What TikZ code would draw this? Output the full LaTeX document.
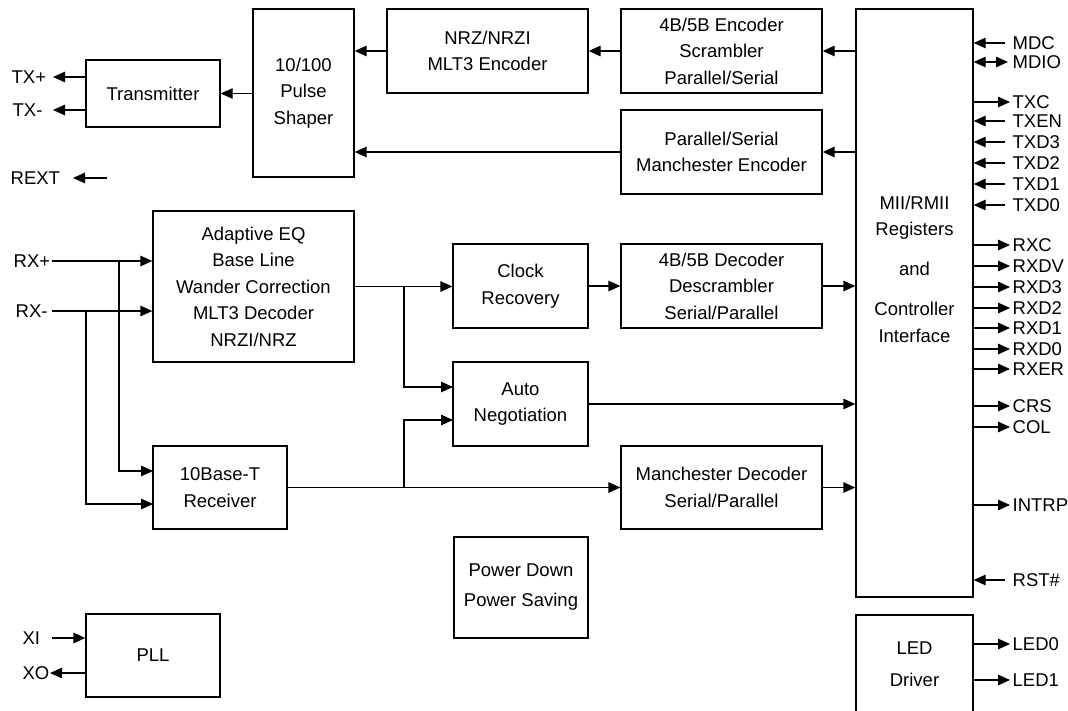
\documentclass[tikz,border=0pt]{standalone}
\usepackage{fontspec}
\setmainfont{Liberation Sans}
\usetikzlibrary{arrows.meta}
\newcommand{\fs}{\fontsize{18.5pt}{26.5pt}\selectfont}
\begin{document}
\begin{tikzpicture}[x=1pt,y=-1pt,
  line width=1.3pt,
  arr/.style={-{Triangle[length=12pt,width=10.5pt]}},
  darr/.style={{Triangle[length=12pt,width=10.5pt]}-{Triangle[length=12pt,width=10.5pt]}},
  blk/.style={draw, inner sep=0pt, align=center, font=\fs},
  txt/.style={inner sep=0pt, align=center, font=\fs},
  lab/.style={inner sep=0pt, font=\fs, text height=13.3pt, text depth=0pt},
]
\fill[white] (0,0) rectangle (1068,711);
\clip (0,0) rectangle (1068,711);

% blocks
\node[blk, minimum width=134pt, minimum height=67pt] (tx) at (153,93.5) {Transmitter};
\node[blk, minimum width=101pt, minimum height=168pt] (ps) at (303.5,93) {10/100\\Pulse\\Shaper};
\node[blk, minimum width=201pt, minimum height=84pt] (nrz) at (487.5,51) {NRZ/NRZI\\MLT3 Encoder};
\node[blk, minimum width=201pt, minimum height=84pt] (enc) at (721.5,51) {4B/5B Encoder\\Scrambler\\Parallel/Serial};
\node[blk, minimum width=201pt, minimum height=84pt] (menc) at (721.5,152) {Parallel/Serial\\Manchester Encoder};
\node[blk, minimum width=117pt, minimum height=588pt] (mii) at (914.5,303) {};
\node[txt] (miit) at (914.5,269) {MII/RMII\\Registers\\[13pt]and\\[14pt]Controller\\Interface};
\node[blk, minimum width=201pt, minimum height=151pt] (aeq) at (253.5,286.5) {Adaptive EQ\\Base Line\\Wander Correction\\MLT3 Decoder\\NRZI/NRZ};
\node[blk, minimum width=135pt, minimum height=84pt] (cr) at (520.5,286) {Clock\\Recovery};
\node[blk, minimum width=201pt, minimum height=84pt] (dec) at (721.5,286) {4B/5B Decoder\\Descrambler\\Serial/Parallel};
\node[blk, minimum width=135pt, minimum height=84pt] (an) at (520.5,404) {Auto\\Negotiation};
\node[blk, minimum width=134pt, minimum height=83pt] (tb) at (220,487.5) {10Base-T\\Receiver};
\node[blk, minimum width=201pt, minimum height=83pt] (mdec) at (721.5,487.5) {Manchester Decoder\\Serial/Parallel};
\node[blk, minimum width=134pt, minimum height=101pt, font=\fontsize{18.5pt}{30pt}\selectfont] (pd) at (521,587.5) {Power Down\\Power Saving};
\node[blk, minimum width=134pt, minimum height=83pt] (pll) at (153,655.5) {PLL};
\node[blk, minimum width=117pt, minimum height=98pt, font=\fontsize{18.5pt}{32pt}\selectfont] (led) at (914.5,664) {LED\\Driver};

% transmit path
\draw[arr] (ps.west |- tx.east) -- (tx.east);
\draw[arr] (nrz.west) -- (ps.east |- nrz.west);
\draw[arr] (enc.west) -- (nrz.east);
\draw[arr] (menc.west) -- (ps.east |- menc.west);
\draw[arr] (mii.west |- enc.east) -- (enc.east);
\draw[arr] (mii.west |- menc.east) -- (menc.east);

% receive path
\coordinate (j1) at (404,286.5);
\coordinate (j2) at (404,487.5);
\coordinate (an1) at (453,387);
\coordinate (an2) at (453,420);
\draw[arr] (aeq.east) -- (aeq.east -| cr.west);
\draw[arr] (j1) |- (an1);
\draw[arr] (j2) |- (an2);
\draw[arr] (cr.east) -- (dec.west);
\draw[arr] (dec.east) -- (mii.west |- dec.east);
\draw[arr] (an.east) -- (mii.west |- an.east);
\draw[arr] (tb.east) -- (mdec.west);
\draw[arr] (mdec.east) -- (mii.west |- mdec.east);

% left pins
\node[lab, anchor=west] (ltxp) at (11,77) {TX+};
\coordinate (ctxp) at (53,77);
\draw[arr] (tx.west |- ctxp) -- (ctxp);
\node[lab, anchor=west] (ltxm) at (12,110) {TX-};
\coordinate (ctxm) at (53,110);
\draw[arr] (tx.west |- ctxm) -- (ctxm);
\node[lab, anchor=west] (lrext) at (10,178) {REXT};
\coordinate (crexa) at (107,178);
\coordinate (crexb) at (73,178);
\draw[arr] (crexa) -- (crexb);
\node[lab, anchor=west] (lrxp) at (13,261) {RX+};
\node[lab, anchor=west] (lrxm) at (15,311) {RX-};
\coordinate (crxp) at (52,261);
\coordinate (crxm) at (52,311);
\draw[arr] (crxp) -- (aeq.west |- crxp);
\draw[arr] (crxm) -- (aeq.west |- crxm);
\coordinate (v1) at (119,261);
\coordinate (v2) at (86,311);
\coordinate (tb1) at (153,471);
\coordinate (tb2) at (153,504);
\draw[arr] (v1) |- (tb1);
\draw[arr] (v2) |- (tb2);
\node[lab, anchor=west] (lxi) at (22,638) {XI};
\coordinate (cxi) at (52,638);
\draw[arr] (cxi) -- (pll.west |- cxi);
\node[lab, anchor=west] (lxo) at (22,673) {XO};
\coordinate (cxo) at (50,673);
\draw[arr] (pll.west |- cxo) -- (cxo);

% right pins: inputs
\foreach \n/\y in {MDC/43,TXEN/121,TXD3/142,TXD2/163,TXD1/184,TXD0/205}{
  \node[lab, anchor=west] (p\n) at (1012,\y) {\n};
  \coordinate (c\n) at (1005,\y);
  \draw[arr] (c\n) -- (mii.east |- c\n);
}
\node[lab, anchor=west] (prst) at (1012,580) {RST\#};
\coordinate (crst) at (1005,580);
\draw[arr] (crst) -- (mii.east |- crst);
% bidirectional
\node[lab, anchor=west] (pmdio) at (1012,62) {MDIO};
\coordinate (cmdio) at (1008,62);
\draw[darr] (cmdio) -- (mii.east |- cmdio);
% outputs
\foreach \n/\y in {TXC/102,RXC/245,RXDV/266,RXD3/287,RXD2/308,RXD1/328,RXD0/349,RXER/369,CRS/406,COL/427,INTRP/505}{
  \node[lab, anchor=west] (p\n) at (1012,\y) {\n};
  \coordinate (c\n) at (1010,\y);
  \draw[arr] (mii.east |- c\n) -- (c\n);
}
\foreach \n/\y in {LED0/644,LED1/680}{
  \node[lab, anchor=west] (p\n) at (1012,\y) {\n};
  \coordinate (c\n) at (1010,\y);
  \draw[arr] (led.east |- c\n) -- (c\n);
}
\end{tikzpicture}
\end{document}
